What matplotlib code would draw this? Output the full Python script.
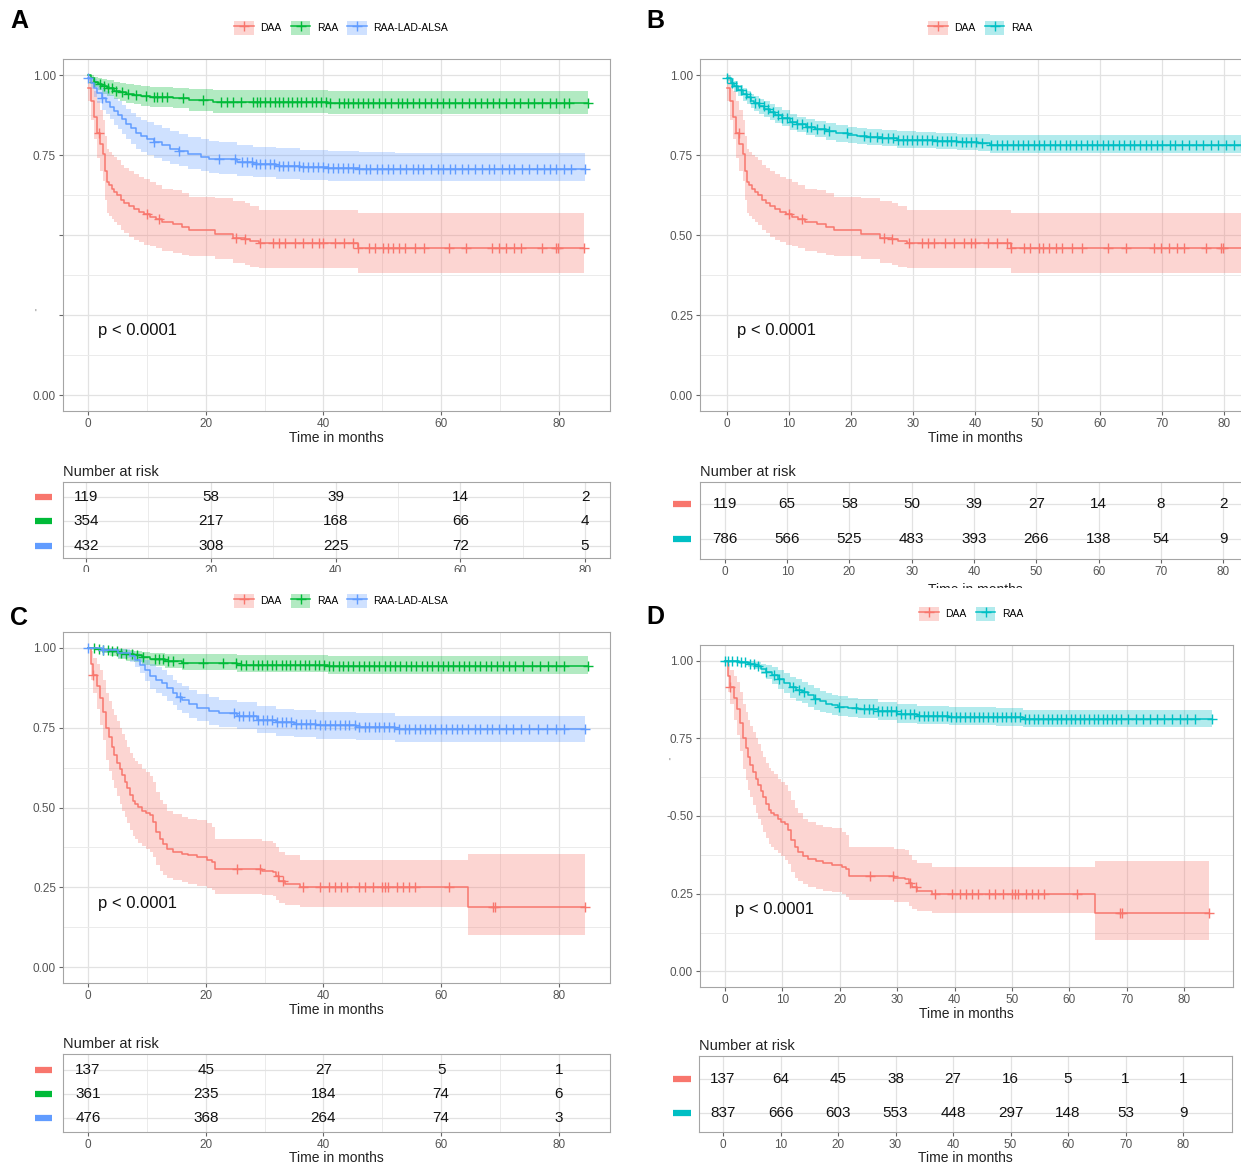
import numpy as np
import matplotlib.pyplot as plt
import matplotlib.transforms as mtransforms
from matplotlib.patches import Patch, Rectangle
from matplotlib.lines import Line2D

plt.rcParams['font.family'] = ['Liberation Sans', 'DejaVu Sans']

W, H = 1241, 1167
RED, GREEN, BLUE, TEAL = '#F8766D', '#00BA38', '#619CFF', '#00BFC4'

# ---------------- data ----------------
# DAA, cohort of panels A/B (n = 119)
daa1_t = [0, 0.5, 1.0, 1.5, 2.0, 2.6, 2.9, 3.2, 3.6, 4.0, 4.5, 5.0, 5.6, 6.2, 7.0, 7.8, 8.6, 9.5, 10.5, 11.5,
          12.5, 14.5, 16.0, 17.2, 21.6, 24.6, 26.6, 27.5, 29.0, 45.8, 84.2]
daa1_s = [0.96, 0.92, 0.87, 0.82, 0.785, 0.754, 0.70, 0.665, 0.655, 0.645, 0.635, 0.625, 0.61, 0.60, 0.59,
          0.58, 0.572, 0.565, 0.557, 0.55, 0.542, 0.535, 0.524, 0.515, 0.503, 0.492, 0.486, 0.48, 0.476, 0.46, 0.46]
daa1_hi = [1.0, 0.98, 0.95, 0.92, 0.89, 0.86, 0.81, 0.77, 0.76, 0.75, 0.745, 0.735, 0.72, 0.71, 0.70, 0.69,
           0.68, 0.675, 0.665, 0.655, 0.645, 0.64, 0.63, 0.62, 0.615, 0.605, 0.60, 0.59, 0.578, 0.568, 0.568]
daa1_lo = [0.92, 0.86, 0.80, 0.74, 0.70, 0.67, 0.61, 0.57, 0.56, 0.55, 0.54, 0.53, 0.515, 0.505, 0.495, 0.485,
           0.478, 0.47, 0.465, 0.458, 0.45, 0.445, 0.438, 0.433, 0.425, 0.412, 0.405, 0.40, 0.398, 0.382, 0.382]
daa1_cens = [1.95, 10.0, 12.0, 25.2, 26.6, 29.3, 31.4, 32.4, 33.4, 35.1, 36.6, 38.1, 39.3, 40.0, 42.0, 43.5,
             45.0, 45.8, 47.8, 48.7, 50.2, 50.9, 51.9, 52.9, 53.9, 55.6, 57.1, 61.3, 64.2, 68.7, 69.9, 71.1,
             72.4, 73.6, 77.1, 79.5, 79.9, 84.2]

# RAA, panel A (n = 354)
raa_a_t = [0, 0.5, 1.1, 1.7, 2.4, 3.2, 4.4, 5.5, 6.5, 7.8, 9.0, 10.5, 14.5, 17.2, 21.3, 40.8, 84.9]
raa_a_s = [1.0, 0.99, 0.979, 0.972, 0.965, 0.958, 0.951, 0.946, 0.942, 0.939, 0.935, 0.932, 0.929, 0.921,
           0.915, 0.911, 0.911]
raa_a_hi = [1.0, 1.0, 0.995, 0.991, 0.988, 0.983, 0.978, 0.975, 0.972, 0.970, 0.966, 0.963, 0.960, 0.956,
            0.953, 0.951, 0.951]
raa_a_lo = [1.0, 0.98, 0.962, 0.952, 0.942, 0.933, 0.924, 0.918, 0.912, 0.908, 0.904, 0.900, 0.897, 0.889,
            0.882, 0.878, 0.878]
raa_a_cens = [1.1, 2.1, 2.8, 3.4, 4.1, 4.8, 5.8, 6.8, 8.1, 9.8, 11.2, 11.8, 12.5, 13.5, 16.2, 19.6, 22.6, 23.6,
              24.6, 26.0, 28.0, 28.7, 29.3, 30.0, 31.0, 31.7, 32.4, 33.2, 33.9, 34.7, 35.5, 36.2, 37.1, 38.1,
              38.8, 39.6, 40.4, 41.1, 42.7, 43.5, 44.1, 45.0, 45.8, 46.7, 47.5, 48.5, 49.5, 50.5, 51.5, 52.6,
              53.4, 54.2, 55.2, 56.3, 57.3, 58.3, 59.3, 60.3, 61.3, 62.3, 63.5, 64.7, 65.7, 66.7, 67.8, 68.9,
              69.9, 71.1, 72.4, 73.4, 74.8, 75.8, 77.1, 78.5, 79.5, 80.8, 81.8, 84.9]

# RAA-LAD-ALSA, panel A (n = 432)
lad_a_t = [0, 0.5, 1.0, 1.6, 2.4, 3.0, 3.7, 4.4, 5.1, 5.8, 6.5, 7.3, 8.1, 9.0, 10.0, 11.2, 12.5, 14.0, 15.5,
           17.0, 19.2, 20.5, 22.3, 25.3, 28.0, 32.0, 36.0, 40.8, 46.0, 52.2, 84.5]
lad_a_s = [0.99, 0.975, 0.96, 0.945, 0.927, 0.915, 0.9, 0.887, 0.874, 0.862, 0.848, 0.834, 0.819, 0.81, 0.80,
           0.79, 0.78, 0.77, 0.762, 0.752, 0.743, 0.739, 0.736, 0.728, 0.722, 0.717, 0.713, 0.709, 0.707,
           0.706, 0.706]
lad_a_hi = [1.0, 0.995, 0.988, 0.975, 0.96, 0.95, 0.938, 0.928, 0.92, 0.905, 0.893, 0.88, 0.87, 0.86, 0.852,
            0.845, 0.835, 0.825, 0.815, 0.807, 0.80, 0.795, 0.79, 0.78, 0.776, 0.772, 0.767, 0.762, 0.758,
            0.757, 0.757]
lad_a_lo = [0.98, 0.955, 0.932, 0.912, 0.89, 0.877, 0.862, 0.845, 0.83, 0.815, 0.80, 0.785, 0.77, 0.76, 0.75,
            0.74, 0.73, 0.722, 0.715, 0.706, 0.70, 0.695, 0.69, 0.685, 0.68, 0.675, 0.671, 0.668, 0.668,
            0.67, 0.67]
lad_a_cens = [0, 2.4, 11.2, 15.5, 22.2, 25.0, 26.2, 27.0, 27.8, 28.5, 29.3, 30.0, 31.0, 31.6, 32.5, 33.2, 34.0,
              35.0, 35.8, 36.5, 37.4, 38.2, 39.0, 40.0, 40.8, 41.7, 42.5, 43.3, 44.1, 45.0, 46.0, 47.2, 48.0,
              49.1, 50.0, 51.0, 51.8, 53.0, 54.0, 55.2, 56.1, 57.0, 58.3, 59.5, 60.4, 61.5, 62.3, 63.6, 64.5,
              65.8, 67.0, 68.2, 69.0, 70.3, 71.5, 72.4, 73.8, 75.0, 76.3, 77.4, 78.5, 79.6, 80.8, 82.0, 84.5]

# RAA pooled, panel B (n = 786)
raa_b_t = [0, 0.6, 1.2, 1.8, 2.5, 3.2, 3.8, 4.4, 5.2, 6.0, 6.9, 7.8, 8.8, 10.1, 11.3, 12.7, 14.2, 15.9, 17.5,
           19.4, 21.0, 22.5, 25.0, 27.3, 30.5, 33.7, 37.0, 40.4, 42.3, 84.9]
raa_b_s = [0.99, 0.975, 0.965, 0.953, 0.94, 0.93, 0.92, 0.911, 0.902, 0.894, 0.885, 0.876, 0.866, 0.853,
           0.846, 0.838, 0.831, 0.824, 0.818, 0.812, 0.809, 0.806, 0.802, 0.798, 0.796, 0.793, 0.79, 0.787,
           0.782, 0.782]
raa_b_hi = [1.0, 0.99, 0.982, 0.97, 0.96, 0.95, 0.942, 0.935, 0.926, 0.918, 0.91, 0.901, 0.891, 0.878, 0.87,
            0.862, 0.856, 0.85, 0.844, 0.838, 0.835, 0.832, 0.828, 0.825, 0.822, 0.82, 0.817, 0.815, 0.812,
            0.812]
raa_b_lo = [0.98, 0.96, 0.948, 0.935, 0.92, 0.91, 0.898, 0.888, 0.878, 0.87, 0.86, 0.851, 0.841, 0.828,
            0.821, 0.813, 0.806, 0.798, 0.792, 0.787, 0.784, 0.781, 0.777, 0.773, 0.771, 0.768, 0.765, 0.762,
            0.757, 0.757]
raa_b_cens = [0, 0.8, 1.5, 2.2, 3.0, 3.7, 4.5, 5.1, 5.9, 6.6, 7.4, 8.2, 8.9, 9.7, 10.5, 11.3, 12.1, 12.8, 13.6,
              14.5, 15.6, 16.4, 19.3, 22.0, 23.0, 24.2, 25.0, 25.9, 26.7, 27.5, 28.3, 29.0, 29.8, 30.6, 31.4,
              32.2, 33.0, 33.8, 34.6, 35.4, 36.1, 36.9, 37.8, 38.5, 39.3, 40.1, 41.0, 42.5, 43.4, 44.2, 45.1,
              46.0, 46.8, 47.7, 48.5, 49.4, 50.2, 51.1, 52.0, 52.8, 53.6, 54.5, 55.3, 56.2, 57.0, 57.9, 58.8,
              59.6, 60.5, 61.3, 62.2, 63.1, 63.9, 64.8, 65.6, 66.5, 67.4, 68.3, 69.2, 70.1, 71.3, 72.2, 73.3,
              74.4, 75.5, 76.6, 77.9, 79.0, 80.3, 81.6, 82.8, 84.9]

# DAA, cohort of panels C/D (n = 137)
daa2_t = [0, 0.5, 0.9, 1.5, 2.1, 2.6, 3.1, 3.6, 4.0, 4.4, 4.9, 5.4, 5.8, 6.3, 6.7, 7.1, 7.6, 8.0, 8.5, 9.2,
          9.8, 10.5, 11.0, 11.5, 12.2, 12.8, 13.5, 14.5, 15.9, 17.0, 18.6, 20.3, 21.0, 21.6, 29.5, 31.4, 32.0,
          32.5, 33.4, 36.1, 64.5, 84.4]
daa2_s = [1.0, 0.95, 0.916, 0.88, 0.843, 0.80, 0.75, 0.72, 0.69, 0.664, 0.64, 0.62, 0.601, 0.58, 0.56, 0.539,
          0.52, 0.51, 0.502, 0.49, 0.482, 0.475, 0.455, 0.423, 0.40, 0.385, 0.37, 0.362, 0.355, 0.35, 0.344,
          0.335, 0.328, 0.307, 0.30, 0.297, 0.285, 0.271, 0.26, 0.25, 0.187, 0.187]
daa2_hi = [1.0, 0.99, 0.97, 0.95, 0.93, 0.90, 0.86, 0.835, 0.81, 0.79, 0.77, 0.75, 0.73, 0.71, 0.69, 0.67,
           0.655, 0.645, 0.635, 0.62, 0.61, 0.60, 0.58, 0.55, 0.525, 0.51, 0.49, 0.48, 0.47, 0.465, 0.46, 0.45,
           0.44, 0.40, 0.395, 0.39, 0.375, 0.36, 0.35, 0.335, 0.355, 0.355]
daa2_lo = [1.0, 0.90, 0.86, 0.81, 0.76, 0.71, 0.65, 0.615, 0.585, 0.56, 0.535, 0.51, 0.49, 0.47, 0.45, 0.43,
           0.41, 0.40, 0.39, 0.38, 0.37, 0.36, 0.345, 0.32, 0.30, 0.29, 0.28, 0.272, 0.265, 0.26, 0.255, 0.248,
           0.24, 0.23, 0.225, 0.222, 0.21, 0.20, 0.195, 0.187, 0.10, 0.10]
daa2_cens = [0.9, 25.3, 29.3, 32.3, 33.2, 36.5, 39.5, 41.0, 42.0, 43.0, 44.0, 46.0, 47.0, 48.5, 50.0, 50.5, 51.0,
             52.5, 53.5, 54.5, 55.5, 61.3, 68.8, 69.2, 84.4]

# RAA, panel C (n = 361)
raa_c_t = [0, 1.5, 2.4, 3.8, 5.1, 6.5, 7.8, 9.2, 10.5, 13.0, 15.9, 25.3, 40.8, 84.9]
raa_c_s = [1.0, 0.998, 0.995, 0.99, 0.984, 0.98, 0.977, 0.972, 0.966, 0.96, 0.953, 0.948, 0.942, 0.942]
raa_c_hi = [1.0, 1.0, 1.0, 1.0, 0.998, 0.995, 0.992, 0.988, 0.984, 0.982, 0.981, 0.977, 0.974, 0.974]
raa_c_lo = [1.0, 0.993, 0.985, 0.975, 0.965, 0.96, 0.955, 0.948, 0.942, 0.937, 0.932, 0.924, 0.918, 0.918]
raa_c_cens = [1.0, 1.8, 2.6, 3.4, 4.1, 4.9, 5.6, 6.5, 7.4, 8.3, 9.3, 11.3, 12.0, 12.8, 13.6, 14.5, 16.2, 19.6,
              23.0, 25.2, 26.0, 26.8, 28.1, 28.9, 29.6, 30.4, 31.2, 32.0, 32.9, 33.6, 34.4, 35.2, 36.0, 36.8,
              37.6, 38.5, 39.3, 40.1, 40.9, 41.7, 42.6, 43.4, 44.2, 45.1, 46.0, 46.9, 47.8, 48.6, 49.5, 50.4,
              51.3, 52.2, 53.1, 54.0, 54.9, 55.8, 56.7, 57.6, 58.5, 59.4, 60.3, 61.2, 62.1, 63.0, 63.9, 64.8,
              65.7, 66.6, 67.6, 68.5, 69.5, 70.6, 71.6, 72.6, 74.0, 75.4, 76.8, 78.2, 79.5, 80.8, 84.9]

# RAA-LAD-ALSA, panel C (n = 476)
lad_c_t = [0, 2.4, 5.1, 7.1, 7.9, 8.8, 9.6, 10.5, 11.5, 12.5, 13.5, 14.5, 15.2, 15.9, 17.2, 18.6, 20.6, 22.3,
           25.3, 28.7, 32.0, 35.0, 38.8, 45.5, 52.2, 84.5]
lad_c_s = [1.0, 0.995, 0.984, 0.974, 0.962, 0.948, 0.93, 0.911, 0.9, 0.89, 0.875, 0.858, 0.847, 0.837, 0.824,
           0.811, 0.803, 0.795, 0.787, 0.774, 0.767, 0.763, 0.759, 0.753, 0.745, 0.745]
lad_c_hi = [1.0, 1.0, 0.997, 0.99, 0.983, 0.975, 0.962, 0.95, 0.94, 0.93, 0.915, 0.90, 0.89, 0.88, 0.868,
            0.855, 0.845, 0.838, 0.83, 0.818, 0.81, 0.805, 0.80, 0.795, 0.788, 0.788]
lad_c_lo = [1.0, 0.985, 0.97, 0.955, 0.94, 0.92, 0.895, 0.87, 0.86, 0.85, 0.835, 0.82, 0.807, 0.795, 0.782,
            0.77, 0.76, 0.752, 0.745, 0.732, 0.725, 0.72, 0.715, 0.71, 0.705, 0.705]
lad_c_cens = [0, 2.5, 15.6, 24.8, 25.6, 26.4, 27.3, 28.0, 28.9, 29.8, 30.5, 31.3, 32.1, 32.9, 33.7, 34.5, 35.3,
              36.2, 37.0, 37.8, 38.6, 39.5, 40.3, 41.1, 42.0, 42.8, 43.6, 44.4, 45.3, 46.1, 47.0, 47.8, 48.7,
              49.5, 50.3, 51.2, 52.0, 52.9, 53.8, 54.6, 55.5, 56.4, 57.3, 58.1, 59.0, 59.9, 60.8, 61.8, 62.7,
              63.6, 64.6, 65.7, 66.6, 67.8, 68.7, 69.8, 71.0, 72.2, 73.5, 75.0, 76.4, 78.0, 79.5, 80.8, 84.5]

# RAA pooled, panel D (n = 837)
raa_d_t = [0, 2.4, 4.0, 5.2, 6.2, 7.2, 8.2, 9.3, 10.3, 11.4, 12.4, 13.4, 14.5, 15.5, 16.5, 17.6, 18.6, 19.7,
           21.5, 23.1, 26.6, 30.0, 33.4, 39.0, 47.2, 52.0, 84.8]
raa_d_s = [1.0, 0.995, 0.99, 0.984, 0.974, 0.963, 0.952, 0.941, 0.928, 0.914, 0.906, 0.898, 0.888, 0.877,
           0.869, 0.861, 0.856, 0.852, 0.848, 0.844, 0.837, 0.828, 0.823, 0.82, 0.817, 0.812, 0.812]
raa_d_hi = [1.0, 1.0, 0.998, 0.995, 0.99, 0.985, 0.978, 0.97, 0.96, 0.948, 0.94, 0.93, 0.92, 0.912, 0.903,
            0.895, 0.89, 0.885, 0.88, 0.875, 0.868, 0.86, 0.855, 0.85, 0.846, 0.842, 0.842]
raa_d_lo = [1.0, 0.988, 0.98, 0.972, 0.958, 0.94, 0.925, 0.91, 0.895, 0.88, 0.871, 0.862, 0.852, 0.842, 0.835,
            0.83, 0.826, 0.822, 0.818, 0.815, 0.808, 0.80, 0.796, 0.792, 0.79, 0.785, 0.785]
raa_d_cens = [0, 0.6, 1.3, 2.0, 2.8, 3.5, 4.3, 5.0, 5.8, 7.2, 8.6, 9.4, 11.8, 12.9, 13.8, 15.6, 19.8, 22.9,
              24.2, 25.0, 25.8, 26.6, 27.4, 28.2, 29.0, 29.8, 30.6, 31.4, 32.2, 33.0, 33.8, 34.6, 35.4, 36.2,
              37.0, 37.8, 38.6, 39.4, 40.2, 41.0, 41.8, 42.6, 43.4, 44.2, 45.0, 45.8, 46.6, 47.4, 48.2, 49.0,
              49.8, 50.6, 51.4, 52.2, 53.0, 53.8, 54.6, 55.4, 56.2, 57.0, 57.8, 58.6, 59.4, 60.2, 61.0, 61.8,
              62.6, 63.4, 64.2, 65.0, 65.8, 66.6, 67.4, 68.2, 69.0, 70.2, 71.6, 72.8, 74.0, 75.3, 76.5, 77.8,
              79.2, 80.5, 81.8, 84.8]

# number at risk tables
risk_a_times = [0, 20, 40, 60, 80]
risk_a = [[119, 58, 39, 14, 2], [354, 217, 168, 66, 4], [432, 308, 225, 72, 5]]
risk_b_times = [0, 10, 20, 30, 40, 50, 60, 70, 80]
risk_b = [[119, 65, 58, 50, 39, 27, 14, 8, 2], [786, 566, 525, 483, 393, 266, 138, 54, 9]]
risk_c_times = [0, 20, 40, 60, 80]
risk_c = [[137, 45, 27, 5, 1], [361, 235, 184, 74, 6], [476, 368, 264, 74, 3]]
risk_d_times = [0, 10, 20, 30, 40, 50, 60, 70, 80]
risk_d = [[137, 64, 45, 38, 27, 16, 5, 1, 1], [837, 666, 603, 553, 448, 297, 148, 53, 9]]

groups3 = ['DAA', 'RAA', 'RAA-LAD-ALSA']
groups2 = ['DAA', 'RAA']


# ---------------- helpers ----------------
def px_axes(fig, l, t, r, b):
    return fig.add_axes([l / W, 1 - b / H, (r - l) / W, (b - t) / H])


def step_at(t, s, x):
    idx = np.searchsorted(t, x, side='right') - 1
    return np.asarray(s)[np.clip(idx, 0, len(s) - 1)]


def frame(ax):
    for sp in ax.spines.values():
        sp.set_color('#A5A5A5')
        sp.set_linewidth(0.8)
    ax.tick_params(which='major', direction='out', length=3, color='#666666',
                   labelsize=8.5, labelcolor='#555555', pad=2)
    ax.tick_params(which='minor', length=0)
    ax.set_axisbelow(True)
    ax.grid(which='major', color='#E2E2E2', lw=0.9)
    ax.grid(which='minor', color='#EBEBEB', lw=0.7)


def km_panel(ax, curves, xlim, xticks, xminor, ylabels, px):
    for t, s, lo, hi, cens, col in curves:
        ax.fill_between(t, lo, hi, step='post', color=col, alpha=0.3, lw=0)
        ax.step(t, s, where='post', color=col, lw=1.1)
        ax.plot(cens, step_at(t, s, cens), ls='none', marker='+', color=col, ms=7, mew=1.0)
    ax.set_xlim(xlim)
    ax.set_ylim(-0.05, 1.05)
    ax.set_xticks(xticks)
    ax.set_xticks(xminor, minor=True)
    ax.set_yticks([0, 0.25, 0.5, 0.75, 1.0])
    ax.set_yticklabels(ylabels)
    ax.set_yticks([0.125, 0.375, 0.625, 0.875], minor=True)
    frame(ax)
    ax.set_xlabel('Time in months', fontsize=10, color='#222222', labelpad=1)
    ax.text(px, 0.2, 'p < 0.0001', fontsize=12, va='center', ha='left', color='#111111')


def risk_table(ax, times, rows, colors, xlim, ylim, xminor, keyx, xlabel=True, labelpad=0):
    trans = mtransforms.blended_transform_factory(ax.transAxes, ax.transData)
    for i, (vals, col) in enumerate(zip(rows, colors)):
        for tm, v in zip(times, vals):
            ax.text(tm, i, str(v), ha='center', va='center', fontsize=11, color='#111111')
        ax.plot(keyx, [i, i], color=col, lw=4.5, solid_capstyle='butt',
                transform=trans, clip_on=False)
    ax.set_xlim(xlim)
    ax.set_ylim(ylim)
    ax.set_xticks(times)
    ax.set_xticks(xminor, minor=True)
    ax.set_yticks(range(len(rows)))
    frame(ax)
    ax.tick_params(axis='y', labelleft=False, length=0)
    ax.set_title('Number at risk', loc='left', fontsize=10.5, color='#222222', pad=4)
    if xlabel:
        ax.set_xlabel('Time in months', fontsize=10, color='#222222', labelpad=labelpad)


def key_frac(x0, x1, left, right):
    return [(x0 - left) / (right - left), (x1 - left) / (right - left)]


def top_legend(fig, names, colors, cx, cy):
    handles = [(Patch(facecolor=c, alpha=0.3, lw=0),
                Line2D([], [], color=c, marker='+', lw=1.1, ms=7)) for c in colors]
    fig.legend(handles, names, loc='center', bbox_to_anchor=(cx / W, 1 - cy / H), ncol=len(names),
               frameon=False, fontsize=7.5, handlelength=1.9, handleheight=1.6,
               handletextpad=0.6, columnspacing=0.9, borderpad=0)


# ---------------- figure ----------------
fig = plt.figure(figsize=(W / 100, H / 100), dpi=100)

# Panel A
ax = px_axes(fig, 63, 59, 610, 411)
km_panel(ax, [(daa1_t, daa1_s, daa1_lo, daa1_hi, daa1_cens, RED),
              (raa_a_t, raa_a_s, raa_a_lo, raa_a_hi, raa_a_cens, GREEN),
              (lad_a_t, lad_a_s, lad_a_lo, lad_a_hi, lad_a_cens, BLUE)],
         (-4.25, 88.7), [0, 20, 40, 60, 80], [10, 30, 50, 70],
         ['0.00', '', '', '0.75', '1.00'], 1.7)
ax = px_axes(fig, 63, 482, 610, 558)
risk_table(ax, risk_a_times, risk_a, [RED, GREEN, BLUE], (-3.7, 84.0), (2.5, -0.6),
           [10, 30, 50, 70], key_frac(35, 52, 63, 610), xlabel=False)

# Panel B
ax = px_axes(fig, 700, 59, 1250, 411)
km_panel(ax, [(daa1_t, daa1_s, daa1_lo, daa1_hi, daa1_cens, RED),
              (raa_b_t, raa_b_s, raa_b_lo, raa_b_hi, raa_b_cens, TEAL)],
         (-4.35, 84.2), risk_b_times, [],
         ['0.00', '0.25', '0.50', '0.75', '1.00'], 1.6)
ax = px_axes(fig, 700, 482, 1250, 559)
risk_table(ax, risk_b_times, risk_b, [RED, TEAL], (-4.0, 84.3), (1.57, -0.63), [],
           key_frac(673, 691, 700, 1250), labelpad=4)

# Panel C
ax = px_axes(fig, 63, 632, 610, 983)
km_panel(ax, [(daa2_t, daa2_s, daa2_lo, daa2_hi, daa2_cens, RED),
              (raa_c_t, raa_c_s, raa_c_lo, raa_c_hi, raa_c_cens, GREEN),
              (lad_c_t, lad_c_s, lad_c_lo, lad_c_hi, lad_c_cens, BLUE)],
         (-4.25, 88.7), [0, 20, 40, 60, 80], [10, 30, 50, 70],
         ['0.00', '0.25', '0.50', '0.75', '1.00'], 1.7)
ax = px_axes(fig, 63, 1054, 610, 1132)
risk_table(ax, risk_c_times, risk_c, [RED, GREEN, BLUE], (-4.25, 88.7), (2.58, -0.67),
           [10, 30, 50, 70], key_frac(35, 52, 63, 610))

# Panel D
ax = px_axes(fig, 700, 645, 1233, 987)
km_panel(ax, [(daa2_t, daa2_s, daa2_lo, daa2_hi, daa2_cens, RED),
              (raa_d_t, raa_d_s, raa_d_lo, raa_d_hi, raa_d_cens, TEAL)],
         (-4.36, 88.5), risk_d_times, [],
         ['0.00', '0.25', '-0.50', '0.75', '1.00'], 1.8)
ax = px_axes(fig, 699, 1056, 1232, 1132)
risk_table(ax, risk_d_times, risk_d, [RED, TEAL], (-4.17, 88.5), (1.56, -0.68), [],
           key_frac(673, 691, 699, 1232))

# cropped strips of the original montage
fig.patches.append(Rectangle((0, 1 - 590 / H), 620 / W, 18 / H, transform=fig.transFigure,
                             facecolor='white', edgecolor='none', zorder=1))
fig.patches.append(Rectangle((620 / W, 1 - 603 / H), 621 / W, 15 / H, transform=fig.transFigure,
                             facecolor='white', edgecolor='none', zorder=1))

# legends
top_legend(fig, groups3, [RED, GREEN, BLUE], 341, 28)
top_legend(fig, groups2, [RED, TEAL], 980, 28)
top_legend(fig, groups3, [RED, GREEN, BLUE], 341, 601)
top_legend(fig, groups2, [RED, TEAL], 971, 614)

# panel letters
for letter, x, y in [('A', 19, 21), ('B', 655, 21), ('C', 19, 618), ('D', 655, 617)]:
    fig.text(x / W, 1 - y / H, letter, fontsize=18, fontweight='bold', ha='center', va='center')

fig.text(35 / W, 1 - 314 / H, "'", fontsize=7, color='#777777', ha='center', va='center')
fig.text(669 / W, 1 - 763 / H, "'", fontsize=7, color='#777777', ha='center', va='center')

fig.savefig('out.png', dpi=100)
